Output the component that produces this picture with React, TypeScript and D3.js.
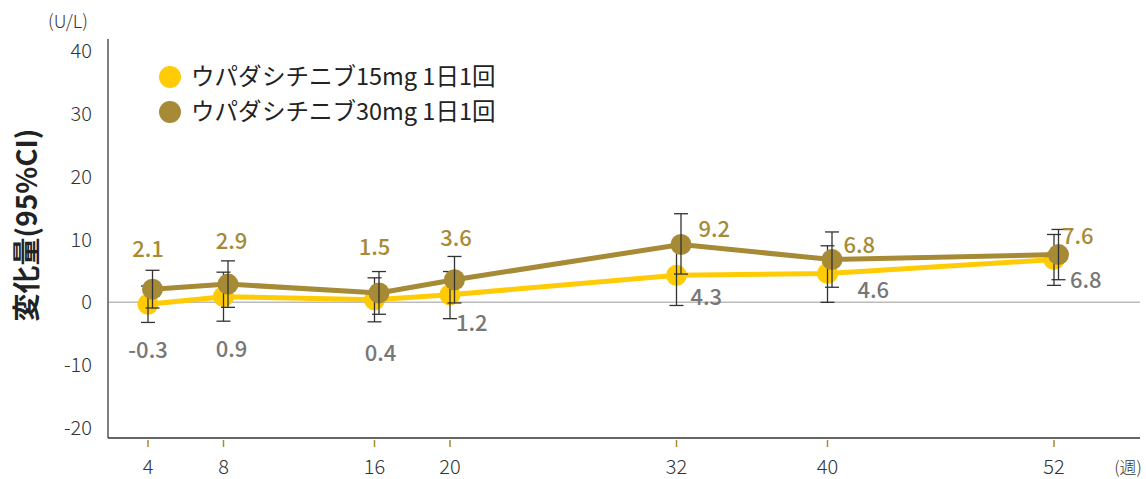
import React from "react";
import * as d3 from "d3";

const weeks = [4, 8, 16, 20, 32, 40, 52];
const yTicks = [40, 30, 20, 10, 0, -10, -20];

const mean15 = [-0.3, 0.9, 0.4, 1.2, 4.3, 4.6, 6.8];
const low15 = [-3.2, -3.0, -3.1, -2.6, -0.5, 0.0, 2.7];
const high15 = [2.6, 4.8, 3.9, 4.9, 9.1, 9.0, 10.8];

const mean30 = [2.1, 2.9, 1.5, 3.6, 9.2, 6.8, 7.6];
const low30 = [-0.9, -0.8, -1.9, -0.1, 4.5, 2.4, 3.6];
const high30 = [5.1, 6.6, 4.9, 7.3, 14.1, 11.2, 11.6];

const seriesNames = ["ウパダシチニブ15mg 1日1回", "ウパダシチニブ30mg 1日1回"];

// label offsets (dx, dy, anchor) relative to point
const label15Pos: [number, number, string][] = [
  [0, 54, "middle"], [8, 60, "middle"], [6, 61, "middle"], [6, 36, "start"],
  [14, 30, "start"], [30, 25, "start"], [16, 28, "start"],
];
const label30Pos: [number, number, string][] = [
  [0, -32, "middle"], [8, -35, "middle"], [0, -38, "middle"], [6, -34, "middle"],
  [22, -8, "start"], [16, -7, "start"], [8, -11, "start"],
];

const W = 1146;
const H = 479;
const C15 = "#FFCB05";
const C30 = "#A68A36";
const FONT = "'Noto Sans CJK JP', 'Noto Sans', sans-serif";

export default function App() {
  const x = d3.scaleLinear().domain([4, 52]).range([148, 1054]);
  const y = d3.scaleLinear().domain([-20, 40]).range([428, 51]);
  const axisLeft = 108;
  const axisRight = 1140;
  const axisBottom = 438;
  const axisTop = 39;
  const off30 = 4.5;

  const line = d3
    .line<number>()
    .x((_, i) => x(weeks[i]))
    .y((d) => y(d));
  const line30 = d3
    .line<number>()
    .x((_, i) => x(weeks[i]) + off30)
    .y((d) => y(d));

  const errBars = (lo: number[], hi: number[], dx: number, key: string) =>
    weeks.map((w, i) => {
      const cx = x(w) + dx;
      return (
        <g key={key + i} stroke="#333" strokeWidth={1.3}>
          <line x1={cx} x2={cx} y1={y(lo[i])} y2={y(hi[i])} />
          <line x1={cx - 7} x2={cx + 7} y1={y(lo[i])} y2={y(lo[i])} />
          <line x1={cx - 7} x2={cx + 7} y1={y(hi[i])} y2={y(hi[i])} />
        </g>
      );
    });

  return (
    <svg width={W} height={H} style={{ position: "absolute", left: 0, top: 0 }} fontFamily={FONT}>
      <rect width={W} height={H} fill="#fff" />
      {/* zero line */}
      <line x1={axisLeft} x2={axisRight} y1={y(0)} y2={y(0)} stroke="#bbb" strokeWidth={1.5} />
      {/* axes */}
      <line x1={axisLeft} x2={axisLeft} y1={axisTop} y2={axisBottom} stroke="#555" strokeWidth={1.5} />
      <line x1={axisLeft} x2={axisRight} y1={axisBottom} y2={axisBottom} stroke="#333" strokeWidth={1.5} />
      {yTicks.map((t) => (
        <text key={t} x={92} y={y(t)} dy="0.35em" textAnchor="end" fontSize={20} fill="#333" fontWeight={300}>
          {t}
        </text>
      ))}
      {weeks.map((w) => (
        <g key={w}>
          <line x1={x(w)} x2={x(w)} y1={axisBottom + 2} y2={axisBottom + 9} stroke={C30} strokeWidth={1.5} />
          <text x={x(w)} y={474} textAnchor="middle" fontSize={20} fill="#333" fontWeight={300}>
            {w}
          </text>
        </g>
      ))}
      <text x={1128} y={474} textAnchor="middle" fontSize={17} fill="#333" fontWeight={300}>(週)</text>
      <text x={68} y={28} textAnchor="middle" fontSize={18} fill="#333" fontWeight={300}>(U/L)</text>
      <text
        transform={`translate(37,225) rotate(-90)`}
        textAnchor="middle"
        fontSize={28}
        fontWeight={700}
        fill="#222"
      >
        変化量(95%CI)
      </text>

      {/* 15mg series */}
      <path d={line(mean15) || ""} fill="none" stroke={C15} strokeWidth={5} />
      {mean15.map((v, i) => (
        <circle key={"c15" + i} cx={x(weeks[i])} cy={y(v)} r={10.5} fill={C15} />
      ))}
      {errBars(low15, high15, 0, "e15")}

      {/* 30mg series */}
      <path d={line30(mean30) || ""} fill="none" stroke={C30} strokeWidth={5} />
      {mean30.map((v, i) => (
        <circle key={"c30" + i} cx={x(weeks[i]) + off30} cy={y(v)} r={10.5} fill={C30} />
      ))}
      {errBars(low30, high30, off30, "e30")}

      {/* labels */}
      {mean15.map((v, i) => (
        <text
          key={"l15" + i}
          x={x(weeks[i]) + label15Pos[i][0]}
          y={y(v) + label15Pos[i][1]}
          textAnchor={label15Pos[i][2]}
          fontSize={22}
          fontWeight={500}
          fill="#777"
        >
          {v.toFixed(1)}
        </text>
      ))}
      {mean30.map((v, i) => (
        <text
          key={"l30" + i}
          x={x(weeks[i]) + label30Pos[i][0]}
          y={y(v) + label30Pos[i][1]}
          textAnchor={label30Pos[i][2]}
          fontSize={22}
          fontWeight={500}
          fill={C30}
        >
          {v.toFixed(1)}
        </text>
      ))}

      {/* legend */}
      {seriesNames.map((n, i) => (
        <g key={n}>
          <circle cx={170} cy={77 + i * 35} r={11} fill={i === 0 ? C15 : C30} />
          <text x={191} y={77 + i * 35} dy="0.35em" fontSize={23.5} fill="#222">
            {n}
          </text>
        </g>
      ))}
    </svg>
  );
}
